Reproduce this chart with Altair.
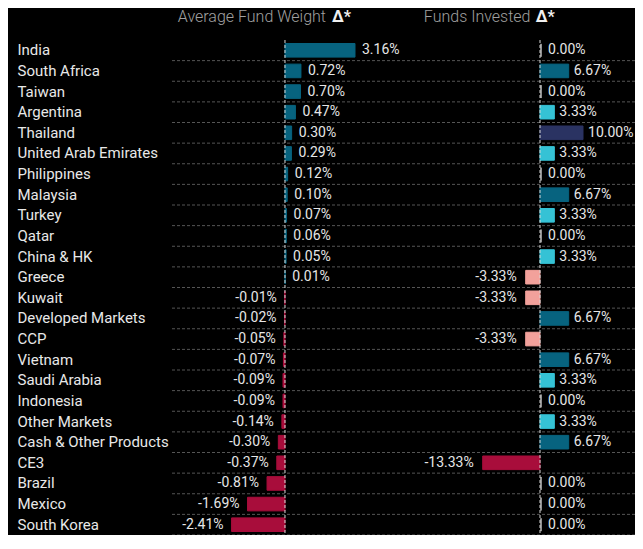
import altair as alt
import pandas as pd
import numpy as np

categories = ["India", "South Africa", "Taiwan", "Argentina", "Thailand",
              "United Arab Emirates", "Philippines", "Malaysia", "Turkey", "Qatar",
              "China & HK", "Greece", "Kuwait", "Developed Markets", "CCP", "Vietnam",
              "Saudi Arabia", "Indonesia", "Other Markets", "Cash & Other Products",
              "CE3", "Brazil", "Mexico", "South Korea"]
avg_weight = [3.16, 0.72, 0.70, 0.47, 0.30, 0.29, 0.12, 0.10, 0.07, 0.06, 0.05, 0.01,
              -0.01, -0.02, -0.05, -0.07, -0.09, -0.09, -0.14, -0.30, -0.37, -0.81,
              -1.69, -2.41]
funds_invested = [0.00, 6.67, 0.00, 3.33, 10.00, 3.33, 0.00, 6.67, 3.33, 0.00, 3.33,
                  -3.33, -3.33, 6.67, -3.33, 6.67, 3.33, 0.00, 3.33, 6.67, -13.33,
                  0.00, 0.00, 0.00]
headings = ["Average Fund Weight", "Funds Invested"]
heading_mark = "Δ*"


def fund_class(v):
    if v <= -10:
        return "n13"
    if v < 0:
        return "n3"
    if v == 0:
        return "zero"
    if v < 5:
        return "c3"
    if v < 8:
        return "c6"
    return "c10"


df = pd.DataFrame({"cat": categories, "avg": avg_weight, "fund": funds_invested})
df["avg_label"] = df["avg"].map(lambda v: f"{v:.2f}%")
df["fund_label"] = df["fund"].map(lambda v: f"{v:.2f}%")
df["avg_cls"] = np.where(df["avg"] >= 0, "pos", "neg")
df["fund_cls"] = df["fund"].map(fund_class)

TEAL = "#07637f"
CRIMSON = "#a80d3b"
color_scale = alt.Scale(
    domain=["pos", "neg", "c3", "c6", "c10", "n3", "n13"],
    range=[TEAL, CRIMSON, "#35c2d5", TEAL, "#2a3362", "#f2a19b", CRIMSON],
)

# geometry of the single plot area (both panels share it)
W = 463
H = 495
TOP = 32
STEP = H / len(categories)
GRID = "#555555"
DASH = [3, 2]
TXT = "#e6e6e6"
FONT = "Roboto"

# each panel has its own x scale laid over the common width
left_scale = alt.Scale(domain=[-5.10, 15.80], nice=False, zero=False)
right_scale = alt.Scale(domain=[-85.58, 22.09], nice=False, zero=False)

yscale = alt.Scale(domain=categories, paddingInner=0.34, paddingOuter=0.17)
Y = alt.Y("cat:N", sort=categories, scale=yscale,
          axis=alt.Axis(title=None, labelAlign="left", labelPadding=155,
                        labelFont=FONT, labelFontSize=15, labelColor="#e8e8e8",
                        ticks=False, domain=False, grid=False, labelLimit=220))

base = alt.Chart(df)
zero_df = pd.DataFrame({"z": [0]})
txt_style = dict(baseline="middle", font=FONT, fontSize=14, color=TXT)


def panel(field, label, cls, xs, grid_vals, orient, pos_dx, neg_dx, zero_ticks):
    xaxis = alt.Axis(values=grid_vals, grid=True, labels=False, ticks=False,
                     domain=False, title=None, orient=orient, gridColor=GRID,
                     gridDash=DASH, gridWidth=1)
    X = alt.X(f"{field}:Q", scale=xs, axis=None)
    bars_src = base.transform_filter(f"datum.{field} != 0") if zero_ticks else base
    bars = bars_src.mark_bar(strokeWidth=1.0).encode(
        x=alt.X(f"{field}:Q", scale=xs, axis=xaxis),
        y=Y,
        color=alt.Color(f"{cls}:N", scale=color_scale, legend=None),
        stroke=alt.Color(f"{cls}:N", scale=color_scale, legend=None),
    )
    zero = alt.Chart(zero_df).mark_rule(color="#d9d9d9", strokeDash=DASH).encode(
        x=alt.X("z:Q", scale=xs, axis=None))
    pos_txt = base.transform_filter(f"datum.{field} > 0").mark_text(
        align="left", dx=pos_dx, **txt_style).encode(x=X, y=Y, text=f"{label}:N")
    neg_txt = base.transform_filter(f"datum.{field} < 0").mark_text(
        align="right", dx=neg_dx, **txt_style).encode(x=X, y=Y, text=f"{label}:N")
    layers = [bars, zero]
    if zero_ticks:
        ticks = base.transform_filter(f"datum.{field} == 0").mark_tick(
            thickness=2, size=13, color="#cfcfcf", xOffset=1).encode(x=X, y=Y)
        zero_txt = base.transform_filter(f"datum.{field} == 0").mark_text(
            align="left", dx=8, **txt_style).encode(x=X, y=Y, text=f"{label}:N")
        layers += [ticks, zero_txt]
    layers += [pos_txt, neg_txt]
    return alt.layer(*layers)


rows = base.mark_rule(color=GRID, strokeDash=DASH, yOffset=STEP / 2).encode(y=Y)

left = panel("avg", "avg_label", "avg_cls", left_scale, [-5, 5], "top", 7, -8, False)
right = panel("fund", "fund_label", "fund_cls", right_scale, [-20], "bottom", 5, -9, True)

one = alt.Chart(pd.DataFrame({"k": [0]}))
TY = 13.5 - TOP
title_style = dict(font="Roboto Light, Roboto", fontSize=16, fontWeight=300,
                   color="#a0a0a0", align="right", baseline="alphabetic")
mark_style = dict(font=FONT, fontSize=16, fontWeight="bold", color="#f0f0f0",
                  align="left", baseline="alphabetic")
heads = alt.layer(
    one.mark_text(**title_style).encode(text=alt.value(headings[0]),
                                        x=alt.value(154), y=alt.value(TY)),
    one.mark_text(**mark_style).encode(text=alt.value(heading_mark),
                                       x=alt.value(160), y=alt.value(TY)),
    one.mark_text(**title_style).encode(text=alt.value(headings[1]),
                                        x=alt.value(358.5), y=alt.value(TY)),
    one.mark_text(**mark_style).encode(text=alt.value(heading_mark),
                                       x=alt.value(363.7), y=alt.value(TY)),
)

chart = alt.layer(rows, left, right, heads).resolve_scale(x="independent").properties(
    width=W, height=H,
    autosize=alt.AutoSizeParams(type="none"),
    padding={"left": 164, "top": TOP, "right": 0, "bottom": 0},
).configure(background="black").configure_view(stroke=None)

chart.save("out.html", embed_options={"renderer": "svg", "actions": False})
